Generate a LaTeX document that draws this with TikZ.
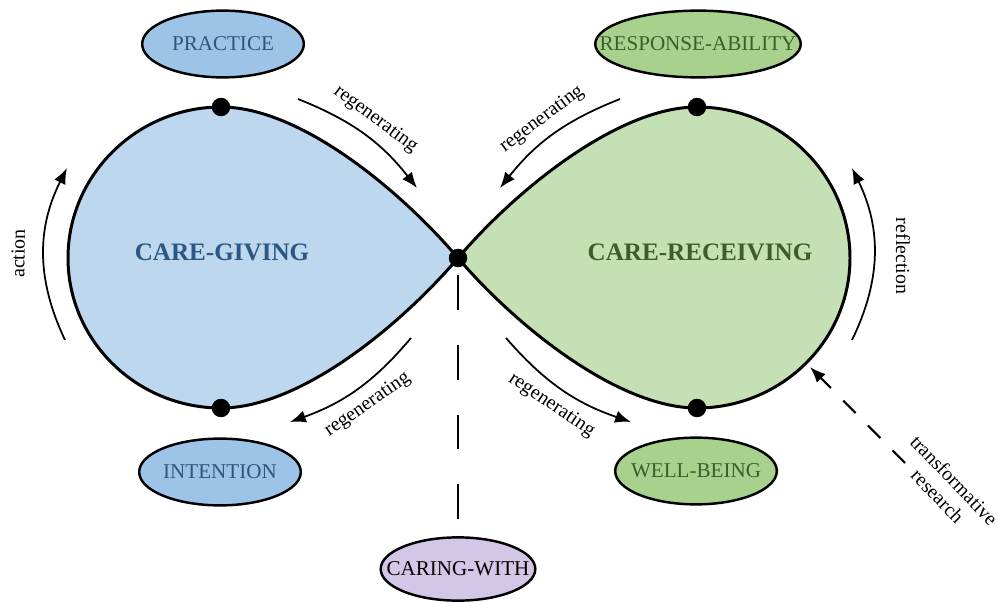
\documentclass[tikz,border=0pt]{standalone}
\usepackage{fontspec}
\setmainfont{Liberation Serif}
\usetikzlibrary{shapes.geometric,arrows.meta}
\definecolor{givefill}{HTML}{BDD7EE}
\definecolor{givetag}{HTML}{9DC3E6}
\definecolor{givetext}{HTML}{2B5783}
\definecolor{recvfill}{HTML}{C5E0B4}
\definecolor{recvtag}{HTML}{A9D18E}
\definecolor{recvtext}{HTML}{3B5E2B}
\definecolor{withtag}{HTML}{D3C6E6}
\newcommand{\tagbox}[1]{\makebox[0pt]{#1}}

\begin{document}
\begin{tikzpicture}[
  x=0.02cm, y=-0.02cm, >={Latex[length=9pt,width=7pt]},
  lobe/.style={draw, line width=1.7pt},
  dot/.style={circle, fill=black, inner sep=0pt, minimum size=10.5pt},
  tag/.style={ellipse, draw, line width=1.4pt, inner sep=0pt,
              minimum width=92pt, minimum height=38pt,
              font=\fontsize{12}{14}\selectfont},
  flow/.style={->, line width=1pt},
  lbl/.style={font=\fontsize{11.3}{13}\selectfont},
  big/.style={font=\fontsize{14.3}{16}\selectfont\bfseries},
]
\useasboundingbox (0,0) rectangle (998,602);

% points on the loop
\coordinate (c)  at (458,258);
\coordinate (gt) at (221,107);
\coordinate (gb) at (221,408);
\coordinate (rt) at (697,107);
\coordinate (rb) at (697,408);

% the two lobes
\path[lobe, fill=givefill] (c) .. controls (400,190) and (300,107) .. (gt)
  .. controls (137,107) and (68,175) .. (68,258)
  .. controls (68,341) and (137,408) .. (gb)
  .. controls (300,408) and (400,326) .. (c) -- cycle;
\path[lobe, fill=recvfill] (c) .. controls (516,190) and (618,107) .. (rt)
  .. controls (781,107) and (850,175) .. (850,258)
  .. controls (850,341) and (781,408) .. (rb)
  .. controls (618,408) and (516,326) .. (c) -- cycle;

\node[big, text=givetext] (give) at (222,252) {CARE-GIVING};
\node[big, text=recvtext] (recv) at (700,252) {CARE-RECEIVING};

% tags
\node[tag, fill=givetag, text=givetext]  (prac) at (223,44)  {\tagbox{PRACTICE}};
\node[tag, fill=givetag, text=givetext]  (intn) at (220,472) {\tagbox{INTENTION}};
\node[tag, fill=recvtag, text=recvtext, minimum width=117pt]
  (resp) at (698,44) {\tagbox{RESPONSE-ABILITY}};
\node[tag, fill=recvtag, text=recvtext]  (well) at (696,471) {\tagbox{WELL-BEING}};
\node[tag, fill=withtag, minimum width=88pt, minimum height=36pt]
  (cw) at (458,569) {\tagbox{CARING-WITH}};

\draw[line width=1.3pt, dash pattern=on 19.85pt off 19.85pt, dash phase=30pt]
  (c) -- (cw.north);

% dots
\node[dot] (cd)  at (c)  {};
\node[dot] (gtd) at (gt) {};
\node[dot] (gbd) at (gb) {};
\node[dot] (rtd) at (rt) {};
\node[dot] (rbd) at (rb) {};

% arrow ends
\coordinate (a1) at (298,99);  \coordinate (a2) at (417,188);
\coordinate (b1) at (620,99);  \coordinate (b2) at (500,188);
\coordinate (d1) at (411,338); \coordinate (d2) at (290,422);
\coordinate (e1) at (506,338); \coordinate (e2) at (631,422);
\coordinate (f1) at (65,340);  \coordinate (f2) at (67,168);
\coordinate (h1) at (852,340); \coordinate (h2) at (852,168);
\coordinate (t1) at (905,463); \coordinate (t2) at (810,367);

\draw[flow] (a1) to[bend left=15]
  node[lbl, midway, sloped, above=2pt] {regenerating} (a2);
\draw[flow] (b1) to[bend right=15]
  node[lbl, midway, sloped, above=2pt] {regenerating} (b2);
\draw[flow] (d1) to[bend left=15]
  node[lbl, midway, sloped, below=2pt] {regenerating} (d2);
\draw[flow] (e1) to[bend right=15]
  node[lbl, midway, sloped, below=2pt] {regenerating} (e2);
\draw[flow] (f1) to[bend left=26]
  node[lbl, midway, sloped, above=7pt] {action} (f2);
\draw[flow] (h1) to[bend right=26] (h2);
\node[lbl, rotate=-90] (refl) at (903,256) {reflection};
\draw[flow, line width=1.2pt, dash pattern=on 10pt off 10pt] (t1) -- (t2);
\node[lbl, rotate=-46, align=center] (tres) at (946,488)
  {transformative\\research};
\end{tikzpicture}
\end{document}
